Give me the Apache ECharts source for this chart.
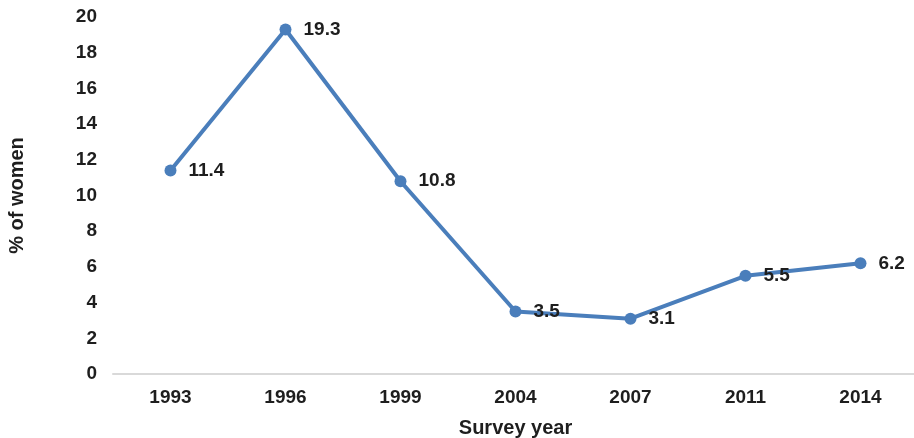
<!DOCTYPE html>
<html>
<head>
<meta charset="utf-8">
<script src="https://cdn.jsdelivr.net/npm/echarts@6/dist/echarts.min.js"></script>
<style>
  html, body { margin: 0; padding: 0; background: #ffffff; }
  #chart { width: 914px; height: 438px; }
</style>
</head>
<body>
<div id="chart"></div>
<script>
// Survey years and share of women (%) per survey
const surveyYears = ['1993', '1996', '1999', '2004', '2007', '2011', '2014'];
const womenShare = [11.4, 19.3, 10.8, 3.5, 3.1, 5.5, 6.2];
const yTicks = [0, 2, 4, 6, 8, 10, 12, 14, 16, 18, 20];

const FONT = '"Liberation Sans", Arial, sans-serif';
const chart = echarts.init(document.getElementById('chart'));

chart.setOption({
  animation: false,
  backgroundColor: '#ffffff',
  grid: { left: 113, top: 17, width: 805, bottom: 64, containLabel: false, outerBoundsMode: 'none' },
  xAxis: {
    type: 'category',
    data: surveyYears,
    boundaryGap: true,
    name: 'Survey year',
    nameLocation: 'middle',
    nameGap: 44,
    nameTextStyle: { fontFamily: FONT, fontWeight: 'bold', fontSize: 20, color: '#1e1e1e' },
    axisLine: { lineStyle: { color: '#d9d9d9', width: 2 } },
    axisTick: { show: false },
    axisLabel: { fontFamily: FONT, fontWeight: 'bold', fontSize: 19, color: '#1e1e1e', margin: 14 },
    splitLine: { show: false }
  },
  yAxis: {
    type: 'value',
    min: yTicks[0],
    max: yTicks[yTicks.length - 1],
    interval: 2,
    name: '% of women',
    nameLocation: 'middle',
    nameGap: 86,
    nameRotate: 90,
    nameTextStyle: { fontFamily: FONT, fontWeight: 'bold', fontSize: 20, color: '#1e1e1e' },
    axisLine: { show: false },
    axisTick: { show: false },
    axisLabel: { fontFamily: FONT, fontWeight: 'bold', fontSize: 19, color: '#1e1e1e', margin: 16 },
    splitLine: { show: false }
  },
  series: [{
    type: 'line',
    data: womenShare,
    symbol: 'circle',
    symbolSize: 12,
    lineStyle: { color: '#4a7ebb', width: 4 },
    itemStyle: { color: '#4a7ebb' },
    label: {
      show: true,
      position: 'right',
      distance: 12,
      fontFamily: FONT,
      fontWeight: 'bold',
      fontSize: 19,
      color: '#1e1e1e',
      formatter: p => p.value.toFixed(1)
    }
  }]
});
</script>
</body>
</html>
